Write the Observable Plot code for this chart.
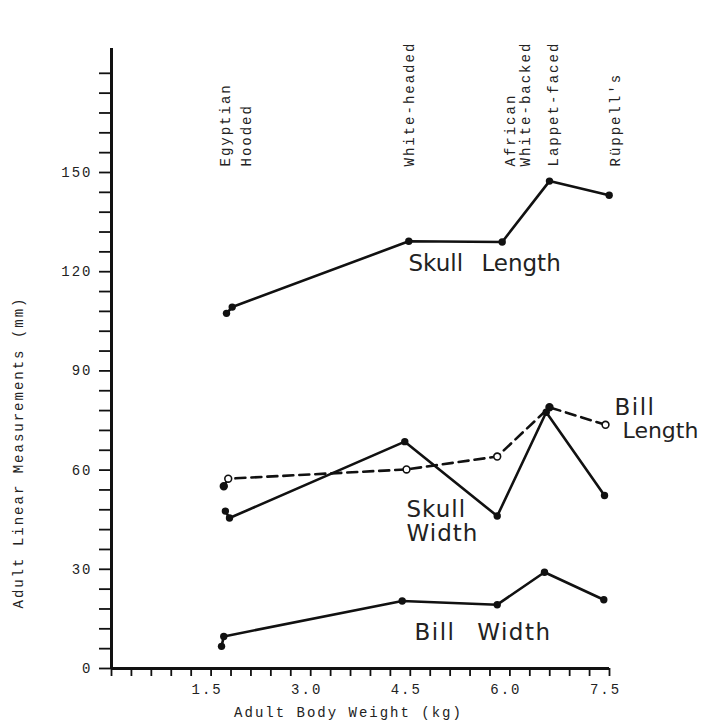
<!DOCTYPE html>
<html>
<head>
<meta charset="utf-8">
<script src="https://cdn.jsdelivr.net/npm/d3@7"></script>
<script src="https://cdn.jsdelivr.net/npm/@observablehq/plot@0.6"></script>
<style>
  html, body { margin: 0; padding: 0; background: #fff; }
  #chart svg { display: block; }
  .tw { font-family: "Liberation Mono", "DejaVu Sans Mono", monospace; letter-spacing: 2px; }
  .lab0 { font-family: "DejaVu Sans", sans-serif; letter-spacing: 0px; word-spacing: 11px; }
  .lab1 { font-family: "DejaVu Sans", sans-serif; letter-spacing: 1px; word-spacing: 12px; }
  .lab2 { font-family: "DejaVu Sans", sans-serif; letter-spacing: 1.5px; word-spacing: 13px; }
</style>
</head>
<body>
<div id="chart"></div>
<script>
// ---- Data ----
const species = ["Egyptian", "Hooded", "White-headed", "African White-backed", "Lappet-faced", "Rüppell's"];

// adult body weight (kg) where each series' point is drawn, and the measurement (mm)
const skullLengthX = [1.732, 1.818, 4.477, 5.884, 6.596, 7.495];
const skullLength  = [107.4, 109.3, 129.2, 129.0, 147.4, 143.1];

const skullWidthX  = [1.715, 1.777, 4.417, 5.809, 6.547, 7.425];
const skullWidth   = [47.6, 45.5, 68.6, 46.1, 77.5, 52.3];

const billLengthX  = [1.691, 1.758, 4.443, 5.809, 6.596, 7.44];
const billLength   = [55.1, 57.4, 60.2, 64.1, 79.0, 73.7];

const billWidthX   = [1.657, 1.691, 4.378, 5.809, 6.521, 7.414];
const billWidth    = [6.7, 9.7, 20.4, 19.3, 29.1, 20.8];

// species names written at the top of the chart, and their weight position
const topLabels  = ["Egyptian", "Hooded", "White-headed", "African", "White-backed", "Lappet-faced", "Rüppell's"];
const topLabelX  = [1.642, 1.958, 4.413, 5.934, 6.160, 6.581, 7.515];

// axis ticks
const xTickLabels = [1.5, 3.0, 4.5, 6.0, 7.5];
const yTickLabels = [0, 30, 60, 90, 120, 150];
const xMinorTicks = d3.range(26).map(i => +(i * 0.3).toFixed(1));
const yMinorTicks = d3.range(31).map(i => i * 6);

// filled markers on the (otherwise open) Bill Length series
const billLengthFilled = new Set(["Egyptian", "Lappet-faced"]);

// ---- Build tables ----
const mk = (xs, ys) => species.map((s, i) => ({species: s, x: xs[i], y: ys[i]}));
const sl = mk(skullLengthX, skullLength);
const sw = mk(skullWidthX, skullWidth);
const bl = mk(billLengthX, billLength);
const bw = mk(billWidthX, billWidth);

const TW = "Liberation Mono, DejaVu Sans Mono, monospace";
const SANS = "DejaVu Sans, sans-serif";

const chart = Plot.plot({
  width: 704,
  height: 727,
  marginLeft: 111,
  marginRight: 95,
  marginTop: 48,
  marginBottom: 59,
  x: {domain: [0, 7.5]},
  y: {domain: [0, 187.5]},
  style: {background: "#fff", color: "#111"},
  marks: [
    // axes lines
    Plot.ruleX([0], {stroke: "#111", strokeWidth: 3}),
    Plot.ruleY([0], {stroke: "#111", strokeWidth: 3}),
    // minor ticks
    Plot.axisY({ticks: yMinorTicks, tickSize: 12, tickFormat: () => "", label: null, strokeWidth: 1.8, stroke: "#111"}),
    Plot.axisX({ticks: xMinorTicks, tickSize: 8, tickFormat: () => "", label: null, strokeWidth: 1.8, stroke: "#111"}),
    // tick labels
    Plot.axisY({ticks: yTickLabels, tickSize: 0, tickPadding: 19, tickFormat: d => String(d), label: null,
      fontFamily: TW, fontSize: 14, className: "tw", fill: "#222"}),
    Plot.axisX({ticks: xTickLabels, tickSize: 0, tickPadding: 16, dx: -4, tickFormat: d => d.toFixed(1), label: null,
      fontFamily: TW, fontSize: 14, className: "tw", fill: "#222"}),
    // axis titles
    Plot.text(["Adult Linear Measurements (mm)"], {frameAnchor: "left", textAnchor: "middle", rotate: -90, dx: -93, dy: 94,
      fontFamily: TW, fontSize: 14, className: "tw", fill: "#222"}),
    Plot.text(["Adult Body Weight (kg)"], {frameAnchor: "bottom", textAnchor: "middle", dx: -12, dy: 48,
      fontFamily: TW, fontSize: 14, className: "tw", fill: "#222"}),
    // species names at top
    Plot.text(topLabels, {x: topLabelX, frameAnchor: "top", dy: 118, rotate: -90, textAnchor: "start",
      fontFamily: TW, fontSize: 14, className: "tw", fill: "#222"}),

    // series lines
    Plot.line(sl, {x: "x", y: "y", stroke: "#111", strokeWidth: 2.6}),
    Plot.line(bw, {x: "x", y: "y", stroke: "#111", strokeWidth: 2.6}),
    Plot.line(bl, {x: "x", y: "y", stroke: "#111", strokeWidth: 2.6, strokeDasharray: "10,6"}),
    Plot.line(sw, {x: "x", y: "y", stroke: "#111", strokeWidth: 2.6}),
    // markers
    Plot.dot(bl, {x: "x", y: "y", r: 3.4, stroke: "#111", strokeWidth: 1.6,
      fill: d => billLengthFilled.has(d.species) ? "#111" : "#fff"}),
    Plot.dot(sl, {x: "x", y: "y", r: 3.7, fill: "#111"}),
    Plot.dot(sw, {x: "x", y: "y", r: 3.7, fill: "#111"}),
    Plot.dot(bw, {x: "x", y: "y", r: 3.7, fill: "#111"}),

    // series labels
    Plot.text(["Skull Length"], {x: 4.473, y: 120.3, textAnchor: "start", lineAnchor: "bottom",
      fontFamily: SANS, fontSize: 23, className: "lab0", fill: "#222"}),
    Plot.text(["Skull"], {x: 4.443, y: 45.9, textAnchor: "start", lineAnchor: "bottom",
      fontFamily: SANS, fontSize: 23, className: "lab1", fill: "#222"}),
    Plot.text(["Width"], {x: 4.443, y: 38.7, textAnchor: "start", lineAnchor: "bottom",
      fontFamily: SANS, fontSize: 23, className: "lab1", fill: "#222"}),
    Plot.text(["Bill"], {x: 7.575, y: 76.8, textAnchor: "start", lineAnchor: "bottom",
      fontFamily: SANS, fontSize: 23, className: "lab2", fill: "#222"}),
    Plot.text(["Length"], {x: 7.696, y: 69.85, textAnchor: "start", lineAnchor: "bottom",
      fontFamily: SANS, fontSize: 22, className: "lab0", fill: "#222"}),
    Plot.text(["Bill Width"], {x: 4.563, y: 8.47, textAnchor: "start", lineAnchor: "bottom",
      fontFamily: SANS, fontSize: 23, className: "lab2", fill: "#222"})
  ]
});
document.getElementById("chart").appendChild(chart);
</script>
</body>
</html>
